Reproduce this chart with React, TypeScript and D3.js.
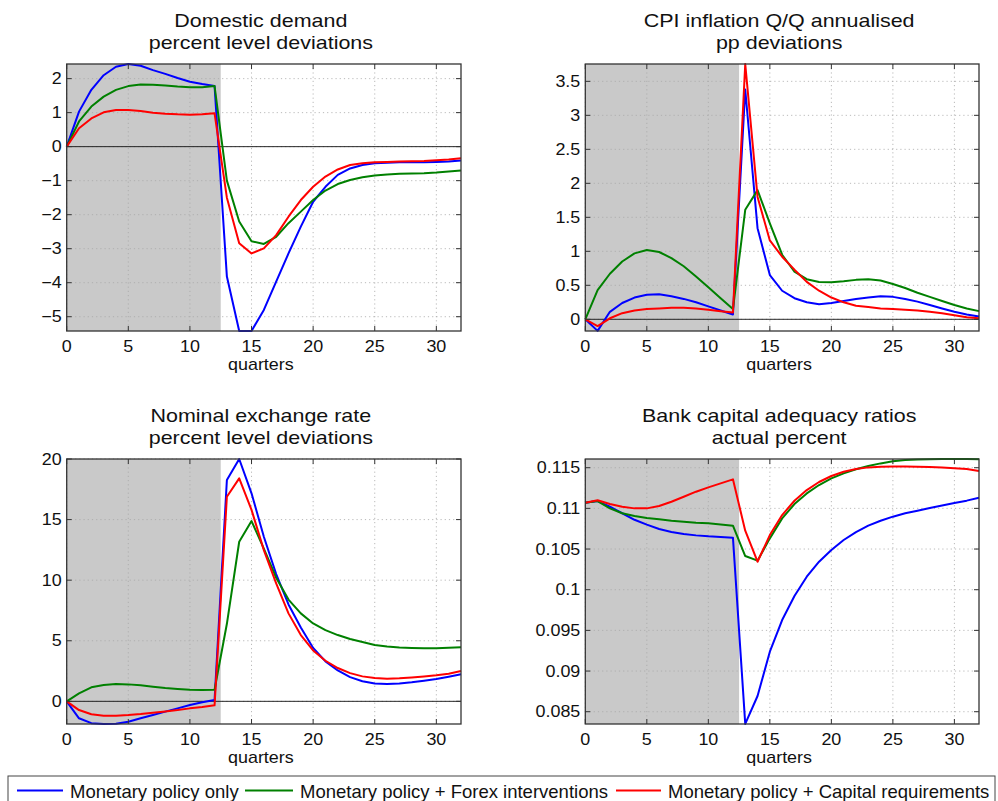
import React from 'react';
import * as d3 from 'd3';

// ---------- data ----------
const quarters = [0,1,2,3,4,5,6,7,8,9,10,11,12,13,14,15,16,17,18,19,20,21,22,23,24,25,26,27,28,29,30,31,32];
const xTicks = [0, 5, 10, 15, 20, 25, 30];
const shadeEnd = 12.5;

const seriesNames = ['Monetary policy only', 'Monetary policy + Forex interventions', 'Monetary policy + Capital requirements'];

// Domestic demand, percent level deviations
const ddBlue = [0, 1.03, 1.67, 2.1, 2.35, 2.43, 2.38, 2.25, 2.14, 2.02, 1.91, 1.84, 1.78, -3.82, -5.42, -5.42, -4.8, -3.97, -3.14, -2.35, -1.62, -1.18, -0.83, -0.64, -0.54, -0.49, -0.47, -0.46, -0.46, -0.46, -0.45, -0.44, -0.41];
const ddGreen = [0, 0.74, 1.18, 1.47, 1.67, 1.78, 1.83, 1.82, 1.8, 1.77, 1.75, 1.75, 1.78, -1.0, -2.2, -2.78, -2.86, -2.65, -2.25, -1.91, -1.57, -1.29, -1.1, -0.98, -0.9, -0.85, -0.82, -0.8, -0.79, -0.78, -0.76, -0.73, -0.7];
const ddRed = [0, 0.54, 0.83, 1.01, 1.08, 1.08, 1.05, 1.0, 0.97, 0.95, 0.94, 0.95, 0.98, -1.5, -2.84, -3.14, -2.99, -2.6, -2.06, -1.57, -1.18, -0.88, -0.67, -0.54, -0.49, -0.46, -0.45, -0.44, -0.43, -0.42, -0.4, -0.38, -0.34];
const ddDomain = [-5.42, 2.43];
const ddTicks = [-5, -4, -3, -2, -1, 0, 1, 2];

// CPI inflation Q/Q annualised, pp deviations
const cpiBlue = [0, -0.17, 0.11, 0.24, 0.32, 0.36, 0.37, 0.34, 0.3, 0.25, 0.19, 0.13, 0.07, 3.38, 1.34, 0.65, 0.42, 0.31, 0.25, 0.22, 0.24, 0.27, 0.3, 0.32, 0.34, 0.33, 0.3, 0.26, 0.21, 0.16, 0.11, 0.07, 0.04];
const cpiGreen = [0, 0.43, 0.67, 0.85, 0.97, 1.02, 0.99, 0.9, 0.78, 0.63, 0.47, 0.31, 0.15, 1.61, 1.9, 1.41, 0.95, 0.7, 0.59, 0.55, 0.545, 0.56, 0.58, 0.59, 0.57, 0.52, 0.46, 0.39, 0.33, 0.27, 0.21, 0.16, 0.12];
const cpiRed = [0, -0.1, 0.015, 0.09, 0.13, 0.15, 0.16, 0.17, 0.17, 0.16, 0.14, 0.12, 0.1, 3.755, 1.8, 1.16, 0.92, 0.73, 0.55, 0.42, 0.32, 0.25, 0.2, 0.18, 0.16, 0.15, 0.14, 0.13, 0.11, 0.09, 0.06, 0.03, 0.015];
const cpiDomain = [-0.172, 3.755];
const cpiTicks = [0, 0.5, 1, 1.5, 2, 2.5, 3, 3.5];

// Nominal exchange rate, percent level deviations
const nerBlue = [0, -1.4, -1.8, -1.87, -1.85, -1.68, -1.4, -1.13, -0.85, -0.58, -0.3, -0.08, 0.11, 18.27, 20.0, 17.17, 13.58, 10.5, 8.0, 6.1, 4.4, 3.3, 2.55, 2.0, 1.66, 1.48, 1.43, 1.47, 1.57, 1.7, 1.85, 2.03, 2.23];
const nerGreen = [0, 0.66, 1.16, 1.35, 1.43, 1.4, 1.32, 1.21, 1.1, 1.02, 0.96, 0.94, 0.96, 6.4, 13.17, 14.88, 12.6, 10.2, 8.4, 7.26, 6.43, 5.88, 5.47, 5.14, 4.9, 4.65, 4.52, 4.44, 4.4, 4.38, 4.39, 4.42, 4.46];
const nerRed = [0, -0.72, -1.07, -1.18, -1.18, -1.13, -1.05, -0.94, -0.83, -0.72, -0.58, -0.47, -0.33, 16.88, 18.4, 15.8, 12.48, 9.73, 7.26, 5.47, 4.2, 3.35, 2.75, 2.33, 2.06, 1.92, 1.87, 1.9, 1.97, 2.05, 2.15, 2.28, 2.5];
const nerDomain = [-1.87, 20.0];
const nerTicks = [0, 5, 10, 15, 20];

// Bank capital adequacy ratios, actual percent
const carBlue = [0.1107, 0.1109, 0.1102, 0.1094, 0.1086, 0.108, 0.10746, 0.1071, 0.10684, 0.10668, 0.10656, 0.10648, 0.1064, 0.0835, 0.08693, 0.09238, 0.09627, 0.09922, 0.1016, 0.10344, 0.10488, 0.10611, 0.10709, 0.10787, 0.10848, 0.10898, 0.10939, 0.10971, 0.11005, 0.11035, 0.11065, 0.11095, 0.1113];
const carGreen = [0.1107, 0.1109, 0.11, 0.1094, 0.10906, 0.10881, 0.10865, 0.10848, 0.10836, 0.10824, 0.10816, 0.10803, 0.10787, 0.10414, 0.10357, 0.10631, 0.10877, 0.11053, 0.11184, 0.11287, 0.11369, 0.1143, 0.1148, 0.1152, 0.11553, 0.11578, 0.11595, 0.116, 0.11605, 0.11607, 0.11607, 0.11607, 0.11605];
const carRed = [0.1107, 0.111, 0.11053, 0.1102, 0.11, 0.11, 0.11029, 0.11082, 0.11143, 0.11205, 0.11258, 0.11307, 0.11357, 0.10725, 0.10344, 0.10672, 0.10918, 0.11094, 0.11225, 0.11324, 0.11398, 0.11451, 0.11484, 0.11504, 0.11512, 0.11515, 0.11515, 0.11512, 0.11508, 0.11502, 0.11494, 0.11484, 0.11459];
const carDomain = [0.08349, 0.11607];
const carTicks = [0.085, 0.09, 0.095, 0.1, 0.105, 0.11, 0.115];

const titles = [
  ['Domestic demand', 'percent level deviations'],
  ['CPI inflation Q/Q annualised', 'pp deviations'],
  ['Nominal exchange rate', 'percent level deviations'],
  ['Bank capital adequacy ratios', 'actual percent'],
];

// ---------- styles ----------
const colors = ['#0000ff', '#008000', '#ff0000'];
const FONT = "'Liberation Sans', Arial, Helvetica, sans-serif";

const T = ({ x, y, anchor = 'middle', size = 16, sx = 1.12, fill = '#111', children }: any) => (
  <text
    transform={`translate(${x},${y}) scale(${sx},1)`}
    textAnchor={anchor}
    fontSize={size}
    fontFamily={FONT}
    fill={fill}
  >
    {children}
  </text>
);

const fmt = (v: number) => String(v).replace('-', '\u2212');

const Panel = ({ box, title, series, domain, yTicks, zeroLine }: any) => {
  const x = d3.scaleLinear().domain([quarters[0], quarters[quarters.length - 1]]).range([box.l, box.r]);
  const y = d3.scaleLinear().domain(domain).range([box.b, box.t]);
  const line = d3.line<number>().x((_, i) => x(quarters[i])).y((d) => y(d));
  const cx = (box.l + box.r) / 2 - 3;
  const tickLen = 5;
  const gridStyle = { stroke: '#a8a8a8', strokeWidth: 0.8, strokeDasharray: '1.2,3' };
  return (
    <g>
      <T x={cx} y={box.t - 37} size={19} sx={1.13}>{title[0]}</T>
      <T x={cx} y={box.t - 15} size={19} sx={1.13}>{title[1]}</T>
      <rect x={box.l} y={box.t} width={box.r - box.l} height={box.b - box.t} fill="#fff" />
      <rect x={x(0)} y={box.t} width={x(shadeEnd) - x(0)} height={box.b - box.t} fill="#c9c9c9" />
      {xTicks.map((t) => (
        <line key={'gx' + t} x1={x(t)} x2={x(t)} y1={box.t} y2={box.b} {...gridStyle} />
      ))}
      {yTicks.map((t: number) => (
        <line key={'gy' + t} x1={box.l} x2={box.r} y1={y(t)} y2={y(t)} {...gridStyle} />
      ))}
      {zeroLine && <line x1={box.l} x2={box.r} y1={y(0)} y2={y(0)} stroke="#111" strokeWidth={0.9} />}
      {series.map((s: number[], i: number) => (
        <path key={'s' + i} d={line(s) || ''} fill="none" stroke={colors[i]} strokeWidth={2} strokeLinejoin="round" />
      ))}
      <rect x={box.l} y={box.t} width={box.r - box.l} height={box.b - box.t} fill="none" stroke="#333" strokeWidth={1.3} />
      {xTicks.map((t) => (
        <g key={'tx' + t}>
          <line x1={x(t)} x2={x(t)} y1={box.b} y2={box.b - tickLen} stroke="#333" strokeWidth={1} />
          <line x1={x(t)} x2={x(t)} y1={box.t} y2={box.t + tickLen} stroke="#333" strokeWidth={1} />
          <T x={x(t)} y={box.b + 21}>{fmt(t)}</T>
        </g>
      ))}
      {yTicks.map((t: number) => (
        <g key={'ty' + t}>
          <line x1={box.l} x2={box.l + tickLen} y1={y(t)} y2={y(t)} stroke="#333" strokeWidth={1} />
          <line x1={box.r} x2={box.r - tickLen} y1={y(t)} y2={y(t)} stroke="#333" strokeWidth={1} />
          <T x={box.l - 5} y={y(t) + 5.7} anchor="end">{fmt(t)}</T>
        </g>
      ))}
      <T x={(box.l + box.r) / 2 - 3} y={box.b + 39}>quarters</T>
    </g>
  );
};

export default function App() {
  const panels = [
    { box: { l: 66.7, r: 461, t: 64, b: 331 }, series: [ddBlue, ddGreen, ddRed], domain: ddDomain, yTicks: ddTicks, zeroLine: true },
    { box: { l: 585.3, r: 979, t: 64, b: 331 }, series: [cpiBlue, cpiGreen, cpiRed], domain: cpiDomain, yTicks: cpiTicks, zeroLine: true },
    { box: { l: 66.7, r: 461, t: 459, b: 724 }, series: [nerBlue, nerGreen, nerRed], domain: nerDomain, yTicks: nerTicks, zeroLine: true },
    { box: { l: 585.3, r: 979, t: 459, b: 724 }, series: [carBlue, carGreen, carRed], domain: carDomain, yTicks: carTicks, zeroLine: false },
  ];
  const legendItems = [
    { x1: 17, x2: 63, tx: 70 },
    { x1: 245, x2: 293, tx: 300 },
    { x1: 616, x2: 661, tx: 668 },
  ];
  return (
    <svg width={998} height={801} style={{ position: 'absolute', left: 0, top: 0, background: '#fff' }}>
      <rect x={0} y={0} width={998} height={801} fill="#fff" />
      {panels.map((p, i) => (
        <Panel key={i} title={titles[i]} {...p} />
      ))}
      <rect x={8} y={776} width={987} height={30} fill="#fff" stroke="#444" strokeWidth={1} />
      {legendItems.map((it, i) => (
        <g key={'lg' + i}>
          <line x1={it.x1} x2={it.x2} y1={790.5} y2={790.5} stroke={colors[i]} strokeWidth={2} />
          <text x={it.tx} y={798} fontSize={18.5} fontFamily={FONT} fill="#111">{seriesNames[i]}</text>
        </g>
      ))}
    </svg>
  );
}
